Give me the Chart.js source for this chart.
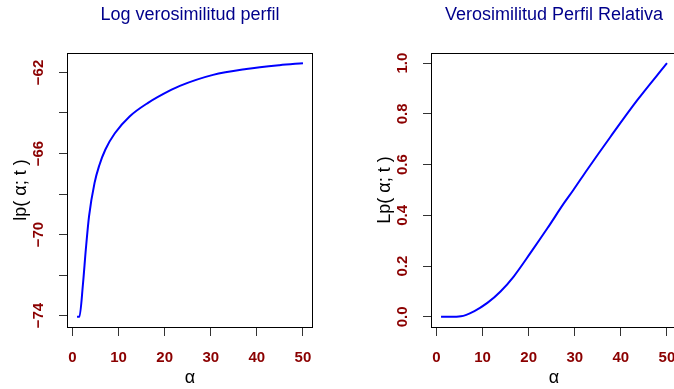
<!DOCTYPE html>
<html>
<head>
<meta charset="utf-8">
<script src="https://cdn.jsdelivr.net/npm/chart.js"></script>
<style>
  html, body { margin: 0; padding: 0; background: #fff; overflow: hidden; }
  body { width: 674px; height: 389px; position: relative; }
  canvas { position: absolute; top: 0; }
  #lpChart { left: 0; }
  #relChart { left: 364px; }
</style>
</head>
<body>
<canvas id="lpChart" width="337" height="389"></canvas>
<canvas id="relChart" width="337" height="389"></canvas>
<script>
    // profile log-likelihood lp(alpha; t)
    const alphaLp = [1, 1.5, 2.3, 2.9, 3.6, 4.8, 5.8, 7.15, 9.2, 12.4, 16.4, 21.5, 23.3, 30.5, 37.7, 44.9, 50];
    const lpValues = [-74.06, -74.06, -72.4, -70.75, -69.1, -67.45, -66.6, -65.8, -65.0, -64.17, -63.5, -62.85, -62.66, -62.12, -61.83, -61.64, -61.54];

    // relative profile likelihood Lp(alpha; t)
    const alphaRel = [1, 3, 5.3, 8.15, 11.05, 13.9, 16.8, 20.4, 24.1, 27.7, 29.7, 32.7, 37.8, 43.6, 50];
    const relValues = [0, 0, 0.002, 0.022, 0.055, 0.10, 0.16, 0.252, 0.35, 0.449, 0.50, 0.58, 0.711, 0.855, 1.0];

    // axis ticks and the labels printed on them
    const alphaTicks = [0, 10, 20, 30, 40, 50];
    const lpTicks = [-74, -72, -70, -68, -66, -64, -62];
    const lpTickLabels = [[-74, '\u221274'], [-70, '\u221270'], [-66, '\u221266'], [-62, '\u221262']];
    const relTicks = [0, 0.2, 0.4, 0.6, 0.8, 1.0];
    const relTickLabels = [[0, '0.0'], [0.2, '0.2'], [0.4, '0.4'], [0.6, '0.6'], [0.8, '0.8'], [1.0, '1.0']];

    const FONT = '"Liberation Sans", Arial, Helvetica, sans-serif';

    // box around the plot area, main title and vertical y tick labels
    const framePlugin = {
        id: 'frame',
        afterDraw(chart, args, opts) {
            const { ctx, chartArea: a, scales: { y } } = chart;
            ctx.save();
            ctx.strokeStyle = '#000';
            ctx.lineWidth = 1;
            ctx.strokeRect(a.left - 0.5, a.top + 0.5, a.right - a.left + 1, a.bottom - a.top);

            ctx.fillStyle = '#00008B';
            ctx.font = '18px ' + FONT;
            ctx.textAlign = 'center';
            ctx.textBaseline = 'alphabetic';
            ctx.fillText(opts.title, (a.left + a.right) / 2, 20);

            ctx.fillStyle = '#8B0000';
            ctx.font = 'bold 15px ' + FONT;
            ctx.textBaseline = 'middle';
            opts.labels.forEach(([v, txt]) => {
                ctx.save();
                ctx.translate(a.left - 29.5, y.getPixelForValue(v));
                ctx.rotate(-Math.PI / 2);
                ctx.fillText(txt, 0, 0);
                ctx.restore();
            });
            ctx.restore();
        }
    };

    function makeChart(id, xs, ys, yMin, yMax, yTicks, yLabels, yTitle, title) {
        const ctx = document.getElementById(id).getContext('2d');
        return new Chart(ctx, {
            type: 'line',
            data: {
                datasets: [{
                    data: xs.map((x, i) => ({ x: x, y: ys[i] })),
                    borderColor: '#0000FF',
                    borderWidth: 2,
                    pointRadius: 0,
                    cubicInterpolationMode: 'monotone',
                    fill: false
                }]
            },
            options: {
                responsive: false,
                animation: false,
                layout: { padding: { top: 53, right: 25, bottom: 0, left: 0 } },
                plugins: {
                    legend: { display: false },
                    tooltip: { enabled: false },
                    frame: { title: title, labels: yLabels }
                },
                scales: {
                    x: {
                        type: 'linear',
                        min: -0.96,
                        max: 51.96,
                        afterBuildTicks: s => { s.ticks = alphaTicks.map(v => ({ value: v })); },
                        afterFit: s => { s.height = 62; },
                        grid: { drawOnChartArea: false, drawTicks: true, tickLength: 9, color: '#333' },
                        border: { display: false },
                        ticks: {
                            autoSkip: false,
                            maxRotation: 0,
                            padding: 13,
                            color: '#8B0000',
                            font: { family: FONT, size: 15, weight: 'bold' }
                        },
                        title: {
                            display: true,
                            text: '\u03b1',
                            color: '#000',
                            padding: { top: 0, bottom: 0 },
                            font: { family: FONT, size: 18 }
                        }
                    },
                    y: {
                        type: 'linear',
                        min: yMin,
                        max: yMax,
                        afterBuildTicks: s => { s.ticks = yTicks.map(v => ({ value: v })); },
                        afterFit: s => { s.width = 68; },
                        grid: { drawOnChartArea: false, drawTicks: true, tickLength: 9, color: '#333' },
                        border: { display: false },
                        ticks: { display: false },
                        title: {
                            display: true,
                            text: yTitle,
                            color: '#000',
                            padding: { top: 10, bottom: 0 },
                            font: { family: FONT, size: 18 }
                        }
                    }
                }
            },
            plugins: [framePlugin]
        });
    }

    makeChart('lpChart', alphaLp, lpValues, -74.56, -61.04, lpTicks, lpTickLabels,
        'lp( \u03b1; t )', 'Log verosimilitud perfil');
    makeChart('relChart', alphaRel, relValues, -0.04, 1.04, relTicks, relTickLabels,
        'Lp( \u03b1; t )', 'Verosimilitud Perfil Relativa');
</script>
</body>
</html>
